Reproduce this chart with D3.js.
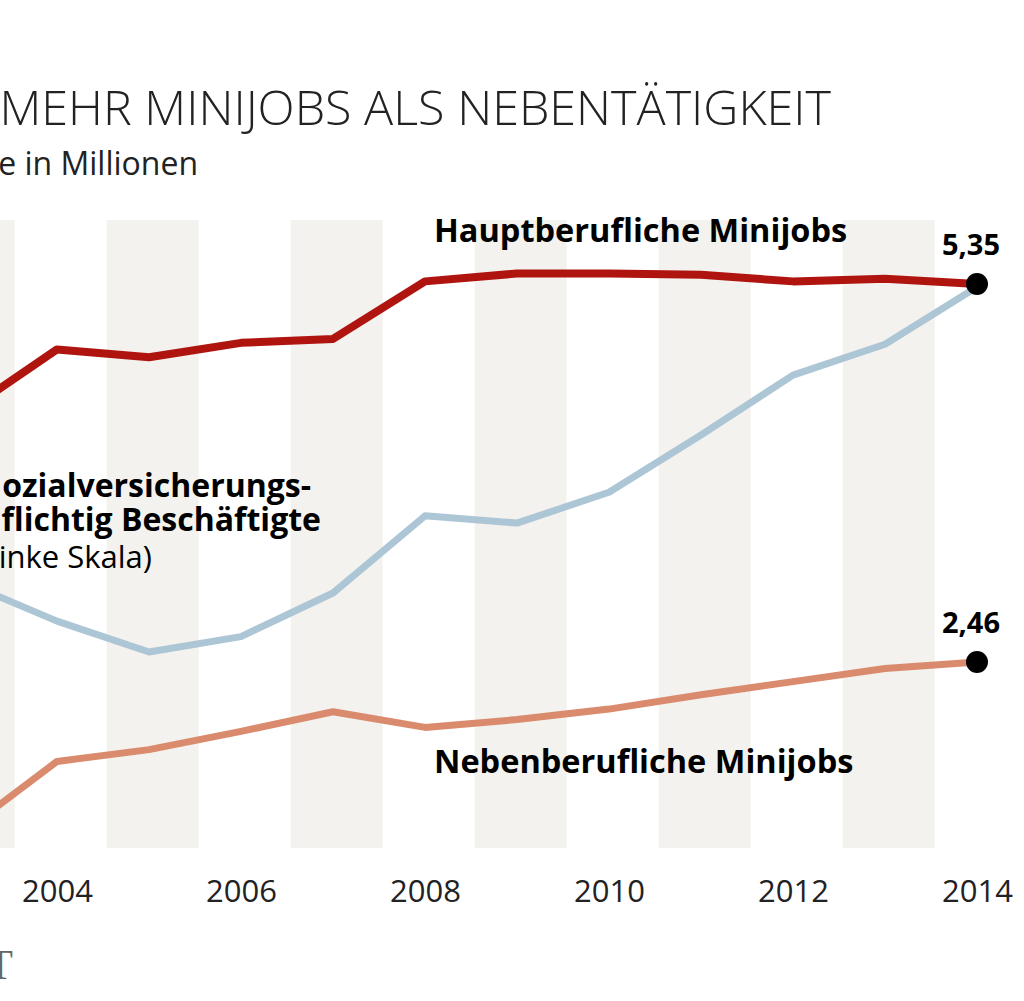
<!DOCTYPE html>
<html>
<head>
<meta charset="utf-8">
<script src="https://cdn.jsdelivr.net/npm/d3@7"></script>
<style>
  html, body { margin: 0; padding: 0; background: #fff; }
  svg { display: block; }
</style>
</head>
<body>
<svg id="chart" width="1024" height="1001"></svg>
<script>
// ---- data ----
const years = [2003, 2004, 2005, 2006, 2007, 2008, 2009, 2010, 2011, 2012, 2013, 2014];
const hauptberuflich = [4.37, 4.85, 4.79, 4.90, 4.93, 5.37, 5.43, 5.43, 5.42, 5.37, 5.39, 5.35];
const nebenberuflich = [1.17, 1.70, 1.79, 1.93, 2.08, 1.96, 2.02, 2.10, 2.21, 2.31, 2.41, 2.46];
const svBeschaeftigte = [26.95, 26.52, 26.18, 26.35, 26.83, 27.68, 27.60, 27.94, 28.57, 29.23, 29.57, 30.20];
const stripeYears = [2003, 2005, 2007, 2009, 2011, 2013];
const tickYears = [2004, 2006, 2008, 2010, 2012, 2014];
const endLabels = ["5,35", "2,46"];

// ---- scales ----
const svg = d3.select("#chart");
const x = d3.scaleLinear().domain([2003, 2014]).range([-35, 977]);
const yRight = d3.scaleLinear().domain([1, 6]).range([284 + 4.35 * 130.8, 284 - 0.65 * 130.8]);
const yLeft = d3.scaleLinear().domain([25, 31]).range([287 + 5.2 * 90.8, 287 - 0.8 * 90.8]);
const plotTop = 220, plotBottom = 848;

// stripes
svg.append("g").selectAll("rect").data(stripeYears).join("rect")
  .attr("x", d => x(d - 0.46))
  .attr("width", d => x(d + 0.54) - x(d - 0.46))
  .attr("y", plotTop)
  .attr("height", plotBottom - plotTop)
  .attr("fill", "#f3f2ee");

// axis
const axis = svg.append("g")
  .attr("transform", `translate(0,${plotBottom})`)
  .call(d3.axisBottom(x).tickValues(tickYears).tickSize(0).tickPadding(32).tickFormat(d3.format("d")));
axis.select(".domain").remove();
axis.selectAll("text")
  .attr("font-family", "'Open Sans', sans-serif")
  .attr("font-size", 31)
  .attr("font-weight", 400)
  .attr("fill", "#222");

// lines
function drawLine(values, yScale, color, width) {
  const line = d3.line().x((d, i) => x(years[i])).y(d => yScale(d));
  svg.append("path").datum(values)
    .attr("d", line)
    .attr("fill", "none")
    .attr("stroke", color)
    .attr("stroke-width", width)
    .attr("stroke-linejoin", "round");
}
drawLine(svBeschaeftigte, yLeft, "#adc6d6", 7);
drawLine(nebenberuflich, yRight, "#db8b6d", 7);
drawLine(hauptberuflich, yRight, "#b0140f", 8);

// end dots
const last = years.length - 1;
const ends = [hauptberuflich[last], nebenberuflich[last]];
svg.append("g").selectAll("circle").data(ends).join("circle")
  .attr("cx", x(years[last]))
  .attr("cy", d => yRight(d))
  .attr("r", 11)
  .attr("fill", "#000");

svg.append("g").selectAll("text").data(ends).join("text")
  .attr("x", x(years[last]) - 6)
  .attr("y", d => yRight(d) - 29)
  .attr("text-anchor", "middle")
  .attr("font-family", "'Open Sans', sans-serif")
  .attr("font-weight", 700)
  .attr("font-size", 29)
  .attr("fill", "#000")
  .text((d, i) => endLabels[i]);

// titles
svg.append("text")
  .attr("x", 831).attr("y", 125)
  .attr("text-anchor", "end")
  .attr("font-family", "'Open Sans', sans-serif")
  .attr("font-weight", 300)
  .attr("font-size", 48.5)
  .attr("fill", "#222")
  .text("MEHR MINIJOBS ALS NEBENTÄTIGKEIT");

svg.append("text")
  .attr("x", 198).attr("y", 175)
  .attr("text-anchor", "end")
  .attr("font-family", "'Open Sans', sans-serif")
  .attr("font-weight", 400)
  .attr("font-size", 32)
  .attr("fill", "#222")
  .text("e in Millionen");

// series labels
function label(txt, xp, yp, anchor, weight, size) {
  svg.append("text")
    .attr("x", xp).attr("y", yp)
    .attr("text-anchor", anchor)
    .attr("font-family", "'Open Sans', sans-serif")
    .attr("font-weight", weight)
    .attr("font-size", size)
    .attr("fill", "#000")
    .text(txt);
}
label("Hauptberufliche Minijobs", 434, 242, "start", 700, 32.5);
label("Nebenberufliche Minijobs", 434, 773, "start", 700, 32.5);
label("ozialversicherungs-", 311, 497, "end", 700, 32);
label("flichtig Beschäftigte", 321, 531, "end", 700, 32);
label("inke Skala)", 152, 568, "end", 400, 31);

// logo fragment
svg.append("text")
  .attr("x", 13).attr("y", 979)
  .attr("text-anchor", "end")
  .attr("font-family", "'Liberation Serif', serif")
  .attr("font-size", 42)
  .attr("fill", "#666")
  .text("T");
</script>
</body>
</html>
